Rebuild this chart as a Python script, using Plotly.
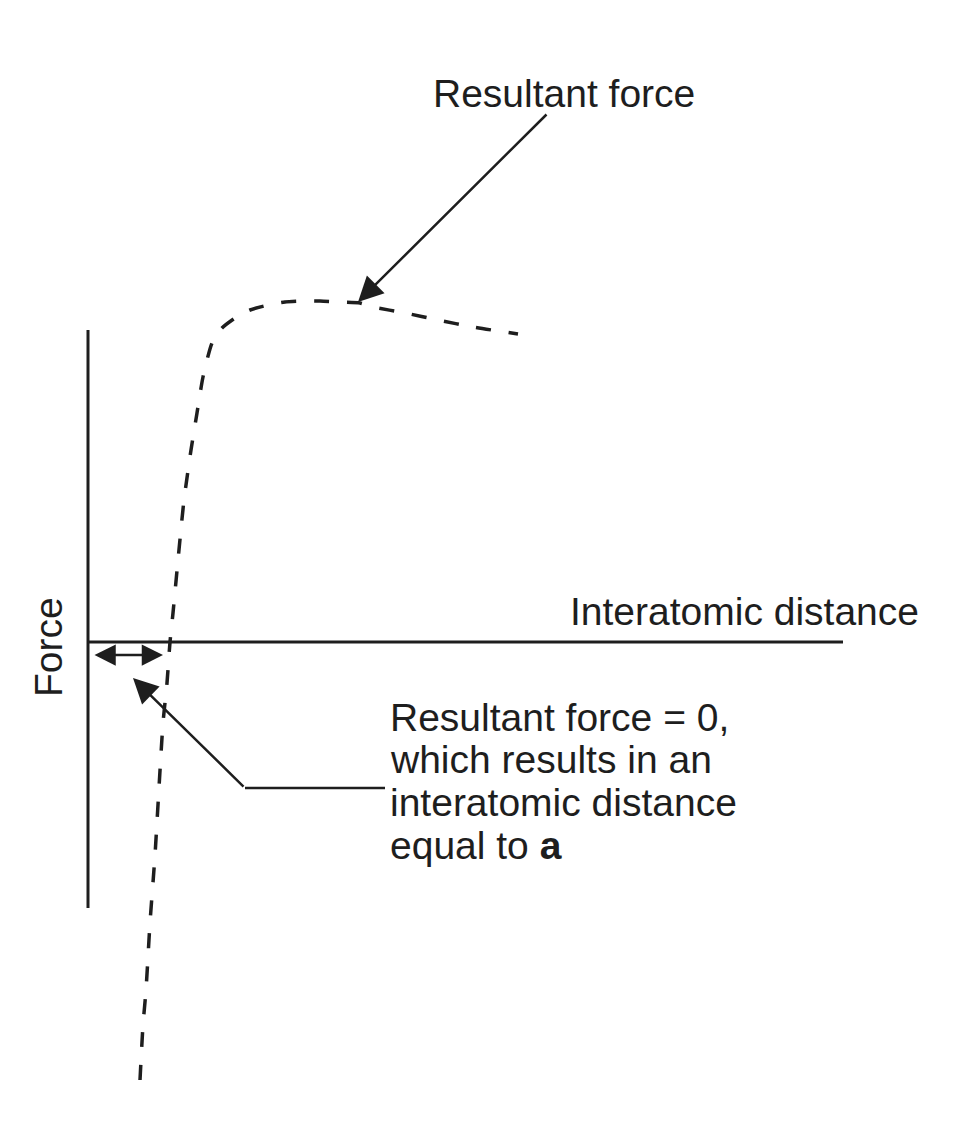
import plotly.graph_objects as go

# Resultant force curve (x = interatomic distance, y = force), units relative to the axes origin
curve_x = [52, 55, 58, 62, 67, 75, 79, 82, 85, 90, 96, 103, 109, 115, 124, 134, 147, 162,
           180, 197, 215, 232, 252, 272, 285, 317, 350, 385, 430]
curve_y = [-438, -383, -348, -281, -213, -81, -41, 0, 29, 82, 142, 192, 229, 265, 299, 314,
           324, 332, 337, 340, 341, 341, 340, 339, 335, 329, 322, 315, 308]

# Axes lines
x_axis_x = [0, 755]
x_axis_y = [0, 0]
y_axis_x = [0, 0]
y_axis_y = [312, -266]

# Labels
label_top = "Resultant force"
label_x = "Interatomic distance"
label_y = "Force"
note_lines = ["Resultant force = 0,", "which results in an", "interatomic distance", "equal to <b>a</b>"]
note_y = [-75, -117, -160, -203]

# Arrow geometry (head, tail)
top_arrow = dict(head=(270, 340), tail=(460, 529))
note_leader_x = [297, 157]
note_leader_y = [-146, -146]
note_arrow = dict(head=(45, -36), tail=(157, -146))
dist_arrow = dict(start=(5, -13), end=(75, -13))

ink = "#1e1e1e"
font_family = "Liberation Sans, Arial, Helvetica, sans-serif"
fs = 39

fig = go.Figure()
fig.add_trace(go.Scatter(x=x_axis_x, y=x_axis_y, mode="lines",
                         line=dict(color=ink, width=3), hoverinfo="skip"))
fig.add_trace(go.Scatter(x=y_axis_x, y=y_axis_y, mode="lines",
                         line=dict(color=ink, width=3), hoverinfo="skip"))
fig.add_trace(go.Scatter(x=curve_x, y=curve_y, mode="lines",
                         line=dict(color=ink, width=3.5, dash="15px,18px", shape="spline", smoothing=0.6),
                         hoverinfo="skip"))
fig.add_trace(go.Scatter(x=note_leader_x, y=note_leader_y, mode="lines",
                         line=dict(color=ink, width=2.5), hoverinfo="skip"))

ann = []
ann.append(dict(x=476, y=549, text=label_top, showarrow=False, xanchor="center", yanchor="middle",
                font=dict(size=fs, color=ink, family=font_family)))
ann.append(dict(x=480, y=31, text=label_x, showarrow=False, xanchor="left", yanchor="middle",
                font=dict(size=fs, color=ink, family=font_family)))
ann.append(dict(x=-40, y=-5, text=label_y, showarrow=False, textangle=-90, xanchor="center", yanchor="middle",
                font=dict(size=fs, color=ink, family=font_family)))
for t, yy in zip(note_lines, note_y):
    ann.append(dict(x=300, y=yy, text=t, showarrow=False, xanchor="left", yanchor="middle",
                    font=dict(size=fs, color=ink, family=font_family)))

ann.append(dict(x=top_arrow["head"][0], y=top_arrow["head"][1], ax=top_arrow["tail"][0], ay=top_arrow["tail"][1],
                xref="x", yref="y", axref="x", ayref="y", text="", showarrow=True,
                arrowhead=2, arrowsize=2, arrowwidth=2.5, arrowcolor=ink))
ann.append(dict(x=note_arrow["head"][0], y=note_arrow["head"][1], ax=note_arrow["tail"][0], ay=note_arrow["tail"][1],
                xref="x", yref="y", axref="x", ayref="y", text="", showarrow=True,
                arrowhead=2, arrowsize=2, arrowwidth=2.5, arrowcolor=ink))
ann.append(dict(x=dist_arrow["end"][0], y=dist_arrow["end"][1], ax=dist_arrow["start"][0], ay=dist_arrow["start"][1],
                xref="x", yref="y", axref="x", ayref="y", text="", showarrow=True,
                arrowhead=2, startarrowhead=2, arrowside="end+start", arrowsize=1.7, startarrowsize=1.7,
                arrowwidth=2.5, arrowcolor=ink))

fig.update_layout(
    width=976, height=1122,
    margin=dict(l=0, r=0, t=0, b=0),
    paper_bgcolor="white", plot_bgcolor="white",
    showlegend=False,
    xaxis=dict(range=[-80, 896], visible=False, fixedrange=True),
    yaxis=dict(range=[-488, 634], visible=False, fixedrange=True),
    annotations=ann,
)

fig.write_html("out.html")
